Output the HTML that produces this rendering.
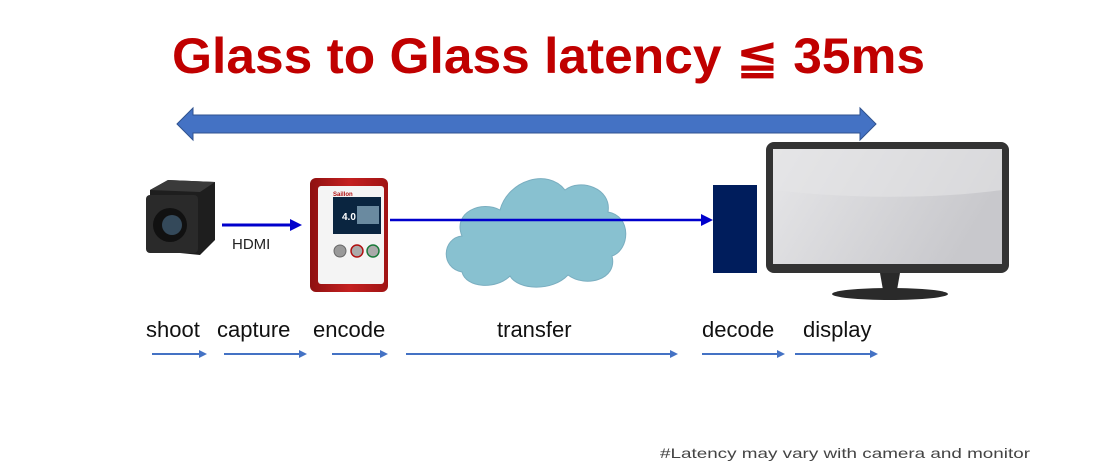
<!DOCTYPE html>
<html><head><meta charset="utf-8"><style>html,body{margin:0;padding:0;background:#fff}svg{display:block}</style></head><body>
<svg width="1100" height="472" viewBox="0 0 1100 472" xmlns="http://www.w3.org/2000/svg" font-family="Liberation Sans, DejaVu Sans, sans-serif">
<defs>
<linearGradient id="scr" x1="0" y1="0" x2="1" y2="0.3"><stop offset="0" stop-color="#e6e6e8"/><stop offset="1" stop-color="#c8c8cc"/></linearGradient>
<linearGradient id="red" x1="0" y1="0" x2="1" y2="0"><stop offset="0" stop-color="#8e1010"/><stop offset="0.5" stop-color="#c42020"/><stop offset="1" stop-color="#a01414"/></linearGradient>
</defs>
<text x="172" y="73" font-size="50" font-weight="bold" fill="#c00000" textLength="753" lengthAdjust="spacingAndGlyphs">Glass to Glass latency ≦ 35ms</text>
<polygon points="177,124 193,108 193,115 860,115 860,108 876,124 860,140 860,133 193,133 193,140" fill="#4472c4" stroke="#2f528f" stroke-width="1"/>
<!-- camera -->
<g>
<polygon points="150,190 168,180 215,182 215,240 200,255 150,250" fill="#1e1e1e"/>
<polygon points="168,180 215,182 200,192 150,190" fill="#3a3a3a"/>
<rect x="146" y="195" width="52" height="58" rx="4" fill="#2a2a2a"/>
<circle cx="170" cy="225" r="17" fill="#111"/>
<circle cx="172" cy="225" r="10" fill="#34495a"/>
</g>
<line x1="222" y1="225" x2="292" y2="225" stroke="#0000cc" stroke-width="3"/>
<polygon points="302,225 290,219 290,231" fill="#0000cc"/>
<text x="232" y="249" font-size="15" fill="#222">HDMI</text>
<!-- encoder -->
<g>
<rect x="310" y="178" width="78" height="114" rx="6" fill="url(#red)"/>
<rect x="318" y="186" width="66" height="98" rx="3" fill="#f4f4f4"/>
<text x="333" y="196" font-size="6" font-weight="bold" fill="#b01010">Saillon</text>
<rect x="333" y="197" width="48" height="37" fill="#0a2540"/>
<rect x="357" y="206" width="22" height="18" fill="#6a8aa0"/>
<text x="342" y="220" font-size="10" font-weight="bold" fill="#fff">4.0</text>
<circle cx="340" cy="251" r="6" fill="#999" stroke="#666"/>
<circle cx="357" cy="251" r="6" fill="#aaa" stroke="#b01010" stroke-width="1.5"/>
<circle cx="373" cy="251" r="6" fill="#aaa" stroke="#1a7a3a" stroke-width="1.5"/>
</g>
<!-- cloud -->
<path d="M462,272 C440,268 442,238 462,236 C452,212 482,200 500,210 C508,180 548,168 565,190 C580,178 612,188 608,212 C632,216 630,250 612,256 C618,280 585,288 568,275 C552,292 518,290 510,276 C496,290 466,288 462,272 Z" fill="#88c1d0" stroke="#7aaec0" stroke-width="1"/>
<line x1="390" y1="220" x2="702" y2="220" stroke="#0000cc" stroke-width="2.5"/>
<polygon points="713,220 701,214 701,226" fill="#0000cc"/>
<rect x="713" y="185" width="44" height="88" fill="#001d5c"/>
<!-- monitor -->
<rect x="766" y="142" width="243" height="131" rx="8" fill="#333"/>
<rect x="773" y="149" width="229" height="115" fill="url(#scr)"/>
<path d="M773,149 H1002 V190 C930,200 840,198 773,190 Z" fill="#e4e4e6" opacity="0.6"/>
<polygon points="880,273 900,273 897,290 883,290" fill="#2a2a2a"/>
<ellipse cx="890" cy="294" rx="58" ry="6" fill="#2a2a2a"/>
<!-- labels -->
<g font-size="22" fill="#111">
<text x="146" y="337">shoot</text>
<text x="217" y="337">capture</text>
<text x="313" y="337">encode</text>
<text x="497" y="337">transfer</text>
<text x="702" y="337">decode</text>
<text x="803" y="337">display</text>
</g>
<g stroke="#4472c4" stroke-width="2" fill="#4472c4">
<line x1="152" y1="354" x2="200" y2="354"/><polygon points="207,354 199,350 199,358" stroke="none"/>
<line x1="224" y1="354" x2="300" y2="354"/><polygon points="307,354 299,350 299,358" stroke="none"/>
<line x1="332" y1="354" x2="381" y2="354"/><polygon points="388,354 380,350 380,358" stroke="none"/>
<line x1="406" y1="354" x2="671" y2="354"/><polygon points="678,354 670,350 670,358" stroke="none"/>
<line x1="702" y1="354" x2="778" y2="354"/><polygon points="785,354 777,350 777,358" stroke="none"/>
<line x1="795" y1="354" x2="871" y2="354"/><polygon points="878,354 870,350 870,358" stroke="none"/>
</g>
<text x="660" y="458" font-size="14" fill="#444" textLength="370" lengthAdjust="spacingAndGlyphs">#Latency may vary with camera and monitor</text>
</svg>
</body></html>
